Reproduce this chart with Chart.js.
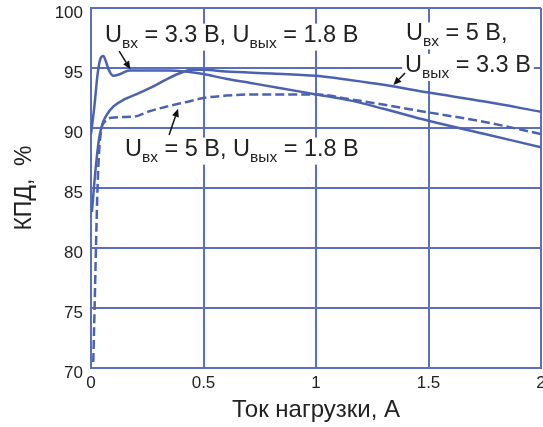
<!DOCTYPE html>
<html>
<head>
<meta charset="utf-8">
<script src="https://cdn.jsdelivr.net/npm/chart.js@4.4.0/dist/chart.umd.min.js"></script>
<style>
  html, body { margin: 0; padding: 0; background: #fff; }
</style>
</head>
<body>
<canvas id="chart" width="543" height="427"></canvas>
<script>
// tick values
const xTicks = [0, 0.5, 1, 1.5, 2];
const yTicks = [70, 75, 80, 85, 90, 95, 100];

// Uвх = 3.3 В, Uвых = 1.8 В
const loadA = [0, 0.015, 0.03, 0.045, 0.055, 0.065, 0.08, 0.1, 0.13, 0.17, 0.25, 0.35, 0.42, 0.5, 0.6, 0.71, 0.85, 1.0, 1.15, 1.3, 1.5, 1.75, 2.0];
const effA  = [89.5, 91.8, 94.6, 95.9, 96.0, 95.6, 94.8, 94.35, 94.5, 94.8, 94.8, 94.8, 94.7, 94.5, 94.1, 93.75, 93.3, 92.8, 92.3, 91.6, 90.6, 89.5, 88.4];

// Uвх = 5 В, Uвых = 3.3 В
const loadB = [0.004, 0.02, 0.035, 0.05, 0.07, 0.1, 0.15, 0.2, 0.27, 0.34, 0.4, 0.45, 0.5, 0.6, 0.8, 1.0, 1.15, 1.3, 1.5, 1.75, 2.0];
const effB  = [83, 86.5, 89, 90.3, 91.1, 91.8, 92.4, 92.8, 93.4, 94.1, 94.6, 94.85, 94.85, 94.7, 94.55, 94.35, 94.0, 93.6, 92.95, 92.2, 91.35];

// Uвх = 5 В, Uвых = 1.8 В
const loadC = [0.01, 0.016, 0.022, 0.029, 0.036, 0.045, 0.06, 0.09, 0.19, 0.26, 0.34, 0.42, 0.5, 0.6, 0.71, 1.0, 1.15, 1.5, 1.75, 2.0];
const effC  = [70.5, 75, 80, 85, 88, 89.8, 90.5, 90.85, 90.95, 91.4, 91.8, 92.15, 92.5, 92.7, 92.8, 92.8, 92.4, 91.3, 90.5, 89.5];

// label text pieces: [text, subscript?], anchor = [load, efficiency] of left baseline
const labelA = [["U", false], ["вх", true], [" = 3.3 В, U", false], ["вых", true], [" = 1.8 В", false]];
const labelB = [["U", false], ["вх", true], [" = 5 В, U", false], ["вых", true], [" = 1.8 В", false]];
const labelC1 = [["U", false], ["вх", true], [" = 5 В,", false]];
const labelC2 = [["U", false], ["вых", true], [" = 3.3 В", false]];
const labelAnchors = [[0.062, 97.2], [0.151, 87.7], [1.4, 97.3], [1.396, 94.67]];

// arrows: [fromX, fromY, toX, toY] in data units
const arrows = [
  [0.125, 96.4, 0.175, 94.9],
  [0.347, 89.42, 0.387, 91.6],
  [1.396, 94.58, 1.344, 93.58]
];

const blue = "#4b62b3";
const gridBlue = "#5a6fbf";
const textColor = "#222";
const family = "'Liberation Sans', Arial, sans-serif";

function toPoints(xs, ys) {
  return xs.map((x, i) => ({ x: x, y: ys[i] }));
}

const labelPlugin = {
  id: "labels",
  afterDatasetsDraw(chart) {
    const ctx = chart.ctx;
    const xs = chart.scales.x, ys = chart.scales.y;
    const bigFont = "23.5px " + family;
    const smallFont = "15.5px " + family;
    const labels = [labelA, labelB, labelC1, labelC2];

    ctx.save();
    labels.forEach((parts, k) => {
      const px = xs.getPixelForValue(labelAnchors[k][0]);
      const py = ys.getPixelForValue(labelAnchors[k][1]);
      let w = 0;
      parts.forEach(p => {
        ctx.font = p[1] ? smallFont : bigFont;
        w += ctx.measureText(p[0]).width;
      });
      ctx.fillStyle = "#fff";
      ctx.fillRect(px - 3, py - 18, w + 6, 27);
      let x = px;
      ctx.fillStyle = textColor;
      ctx.textBaseline = "alphabetic";
      ctx.textAlign = "left";
      parts.forEach(p => {
        ctx.font = p[1] ? smallFont : bigFont;
        ctx.fillText(p[0], x, p[1] ? py + 6 : py);
        x += ctx.measureText(p[0]).width;
      });
    });

    ctx.strokeStyle = "#111";
    ctx.fillStyle = "#111";
    ctx.lineWidth = 1.5;
    arrows.forEach(a => {
      const x1 = xs.getPixelForValue(a[0]), y1 = ys.getPixelForValue(a[1]);
      const x2 = xs.getPixelForValue(a[2]), y2 = ys.getPixelForValue(a[3]);
      const ang = Math.atan2(y2 - y1, x2 - x1);
      const hl = 8, hw = 3.5;
      const bx = x2 - hl * Math.cos(ang), by = y2 - hl * Math.sin(ang);
      ctx.beginPath();
      ctx.moveTo(x1, y1);
      ctx.lineTo(bx, by);
      ctx.stroke();
      ctx.beginPath();
      ctx.moveTo(x2, y2);
      ctx.lineTo(bx + hw * Math.sin(ang), by - hw * Math.cos(ang));
      ctx.lineTo(bx - hw * Math.sin(ang), by + hw * Math.cos(ang));
      ctx.closePath();
      ctx.fill();
    });
    ctx.restore();
  }
};

new Chart(document.getElementById("chart"), {
  type: "line",
  data: {
    datasets: [
      { data: toPoints(loadA, effA), borderColor: blue, borderWidth: 2.5, pointRadius: 0, cubicInterpolationMode: "monotone", fill: false },
      { data: toPoints(loadB, effB), borderColor: blue, borderWidth: 2.5, pointRadius: 0, cubicInterpolationMode: "monotone", fill: false },
      { data: toPoints(loadC, effC), borderColor: blue, borderWidth: 2.5, borderDash: [9, 4], pointRadius: 0, cubicInterpolationMode: "monotone", fill: false }
    ]
  },
  options: {
    responsive: false,
    animation: false,
    layout: { padding: { top: 8, right: 2, left: 0, bottom: 0 } },
    plugins: { legend: { display: false }, tooltip: { enabled: false } },
    scales: {
      x: {
        type: "linear",
        min: xTicks[0],
        max: xTicks[xTicks.length - 1],
        afterBuildTicks: s => { s.ticks = xTicks.map(v => ({ value: v })); },
        afterFit: s => { s.height = 59; s.paddingLeft = 0; s.paddingRight = 0; },
        grid: { color: gridBlue, lineWidth: 2, drawTicks: false },
        border: { color: gridBlue, width: 2 },
        ticks: { color: textColor, font: { family: family, size: 17 }, padding: 5, maxRotation: 0, callback: v => String(v) },
        title: { display: true, text: "Ток нагрузки, А", color: textColor, font: { family: family, size: 24 }, padding: { top: 2, bottom: 2 } }
      },
      y: {
        min: yTicks[0],
        max: yTicks[yTicks.length - 1],
        afterBuildTicks: s => { s.ticks = yTicks.map(v => ({ value: v })); },
        afterFit: s => { s.width = 91; s.paddingTop = 0; s.paddingBottom = 0; },
        grid: { color: gridBlue, lineWidth: 2, drawTicks: false },
        border: { color: gridBlue, width: 2 },
        ticks: { color: textColor, font: { family: family, size: 17 }, padding: 8, labelOffset: 5, callback: v => String(v) },
        title: { display: true, text: "КПД,  %", color: textColor, font: { family: family, size: 23 }, padding: { top: 11, bottom: 11 } }
      }
    }
  },
  plugins: [labelPlugin]
});
</script>
</body>
</html>
